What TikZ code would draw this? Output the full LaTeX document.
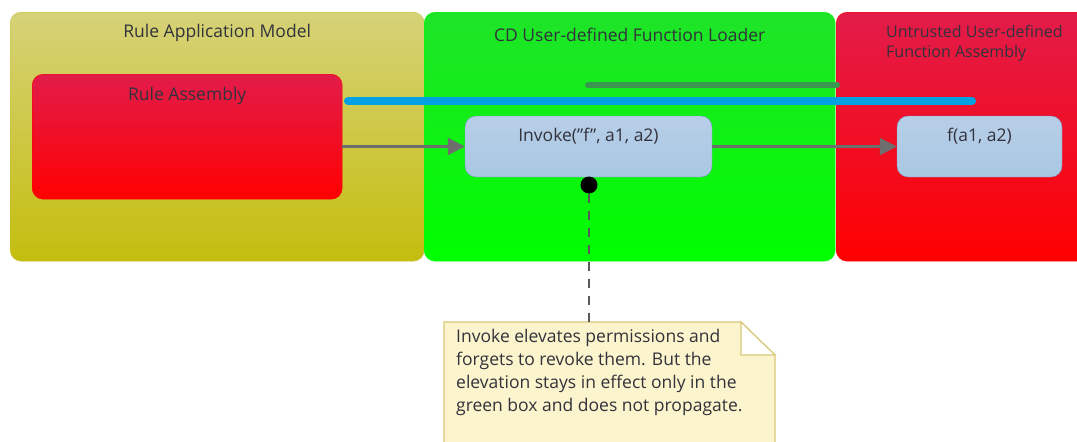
\documentclass[tikz,border=0pt]{standalone}
\usepackage{fontspec}
\setmainfont{Open Sans}
\usetikzlibrary{calc,arrows.meta}

\definecolor{olivetop}{RGB}{214,210,120}
\definecolor{olivebot}{RGB}{196,190,14}
\definecolor{olivedraw}{RGB}{200,190,60}
\definecolor{greentop}{RGB}{30,228,40}
\definecolor{greenbot}{RGB}{0,255,0}
\definecolor{redtop}{RGB}{226,28,74}
\definecolor{redbot}{RGB}{255,0,0}
\definecolor{calltop}{RGB}{184,206,232}
\definecolor{callbot}{RGB}{168,200,226}
\definecolor{calldraw}{RGB}{120,150,190}
\definecolor{flowgray}{RGB}{110,110,110}
\definecolor{elevblue}{RGB}{0,160,226}
\definecolor{elevgreen}{RGB}{58,150,80}
\definecolor{notefill}{RGB}{252,244,204}
\definecolor{notedraw}{RGB}{216,200,120}
\definecolor{textgray}{RGB}{50,50,60}

\begin{document}
\begin{tikzpicture}[x=1pt,y=-1pt,
  font=\fontsize{17.5}{23}\selectfont, text=textgray,
  container/.style={anchor=north west,inner sep=0pt,rounded corners=11pt,minimum height=249pt},
  callbox/.style={draw=calldraw,top color=calltop,bottom color=callbot,rounded corners=11pt,minimum height=61pt,inner sep=0pt},
  flow/.style={draw=flowgray,line width=2.4pt,-{Triangle[length=17pt,width=17pt]}}]

\useasboundingbox (0,0) rectangle (1077,442);

% Containers
\node (model) at (10,12) [container,draw=olivedraw,top color=olivetop,bottom color=olivebot,minimum width=414pt] {};
\node (loader) at (424,12) [container,draw=greenbot,top color=greentop,bottom color=greenbot,minimum width=411pt] {};
\node (untrusted) at (836,12) [container,draw=redbot,top color=redtop,bottom color=redbot,minimum width=260pt] {};

% Rule assembly
\node (ruleasm) at (32,74) [anchor=north west,draw=redbot,top color=redtop,bottom color=redbot,rounded corners=11pt,minimum width=310pt,minimum height=125pt,inner sep=0pt] {};

% Calls
\node (invoke) at (588.5,146.5) [callbox,minimum width=247pt] {};
\node (func) at (979.5,146.5) [callbox,minimum width=165pt] {};
\draw[flow] (ruleasm.east |- invoke.west) -- (invoke.west);
\draw[flow] (invoke.east) -- (func.west);

% Elevation bars
\coordinate (bluea) at (348,101);
\coordinate (blueb) at (972,101);
\coordinate (greena) at (588,85);
\coordinate (greenb) at (837,85);
\draw[elevgreen,line width=6pt,line cap=round] (greena) -- (greenb);
\draw[elevblue,line width=8pt,line cap=round] (bluea) -- (blueb);

% Note
\node[circle,fill=black,inner sep=0pt,minimum size=17pt] (dot) at (589,185) {};
\coordinate (notetl) at (444,322);
\coordinate (notefold) at (741,322);
\coordinate (notecorner) at (775,355);
\draw[notedraw,fill=notefill,line width=1.2pt] (notetl) -- (notefold) -- (notecorner) -- (775,450) -- (444,450) -- cycle;
\draw[notedraw,fill=white,line width=1.2pt] (notefold) -- (notefold |- notecorner) -- (notecorner) -- cycle;
\draw[flowgray!80!black,line width=2.4pt,dash pattern=on 9pt off 8pt] (dot) -- (dot |- notetl);
\node (notetext) at (456,329) [anchor=north west,align=left,inner sep=0pt] {Invoke elevates permissions and\\forgets to revoke them. But the\\elevation stays in effect only in the\\green box and does not propagate.};

% Labels
\node at ($(model.north)+(0,21)$) {Rule Application Model};
\node at ($(loader.north)+(0,23)$) {CD User-defined Function Loader};
\node at (886,25) [anchor=north west,align=left,inner sep=0pt,font=\fontsize{16}{20}\selectfont] {Untrusted User-defined\\Function Assembly};
\node at ($(ruleasm.north)+(0,22)$) {Rule Assembly};
\node at ($(invoke.north)+(0,20)$) {Invoke("f", a1, a2)};
\node at ($(func.north)+(0,20)$) {f(a1, a2)};

\end{tikzpicture}
\end{document}
